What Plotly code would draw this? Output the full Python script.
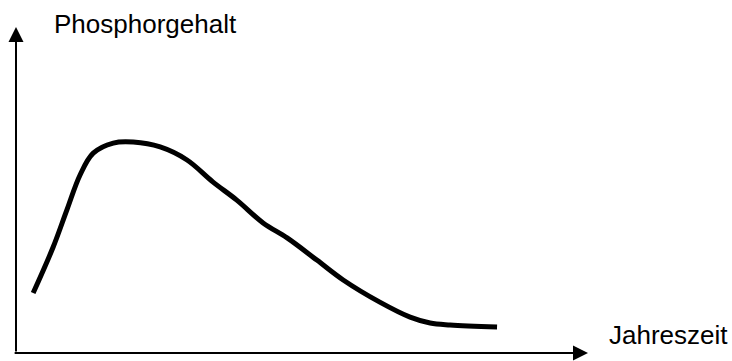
import plotly.graph_objects as go

# Data (arbitrary units)
jahreszeit = [3.0, 6.5, 8.9, 11.2, 13.5, 17.0, 20.5, 25.2, 29.9, 34.4, 38.6,
              43.2, 47.4, 52.6, 57.2, 63.6, 68.9, 72.4, 75.9, 84.1]
phosphorgehalt = [18.4, 32.5, 43.9, 54.6, 61.3, 64.4, 64.7, 63.2, 59.2, 52.5,
                  46.9, 39.9, 35.3, 28.5, 22.4, 15.6, 11.0, 9.2, 8.6, 8.0]
y_label = "Phosphorgehalt"
x_label = "Jahreszeit"

FONT = "Arial, Liberation Sans, sans-serif"

fig = go.Figure()
fig.add_trace(go.Scatter(
    x=jahreszeit, y=phosphorgehalt, mode="lines",
    line=dict(color="black", width=5, shape="spline", smoothing=1.0),
    hoverinfo="skip", showlegend=False,
))

axis_common = dict(showgrid=False, zeroline=False, showticklabels=False,
                   showline=False, ticks="", fixedrange=True)

fig.update_layout(
    width=732, height=361,
    margin=dict(l=16, r=144, t=27, b=8, pad=0),
    paper_bgcolor="white", plot_bgcolor="white",
    xaxis=dict(range=[0, 100], **axis_common),
    yaxis=dict(range=[0, 100], **axis_common),
    annotations=[
        # y axis arrow
        dict(x=0, y=100, ax=0, ay=0, xref="x", yref="y", axref="x", ayref="y",
             text="", showarrow=True, arrowhead=2, arrowsize=1.5, arrowwidth=2,
             arrowcolor="black", standoff=0),
        # x axis arrow
        dict(x=100, y=0, ax=-0.5, ay=0, xref="x", yref="y", axref="x", ayref="y",
             text="", showarrow=True, arrowhead=2, arrowsize=1.5, arrowwidth=2,
             arrowcolor="black", standoff=0),
        dict(x=0.2264, y=1.0077, xref="paper", yref="paper", text=y_label,
             showarrow=False, xanchor="center", yanchor="middle",
             font=dict(family=FONT, size=26, color="black")),
        dict(x=1.1407, y=0.0567, xref="paper", yref="paper", text=x_label,
             showarrow=False, xanchor="center", yanchor="middle",
             font=dict(family=FONT, size=26, color="black")),
    ],
)

fig.write_html("out.html", config={"displayModeBar": False},
               post_script="document.body.style.margin='0';document.body.style.overflow='hidden';")
